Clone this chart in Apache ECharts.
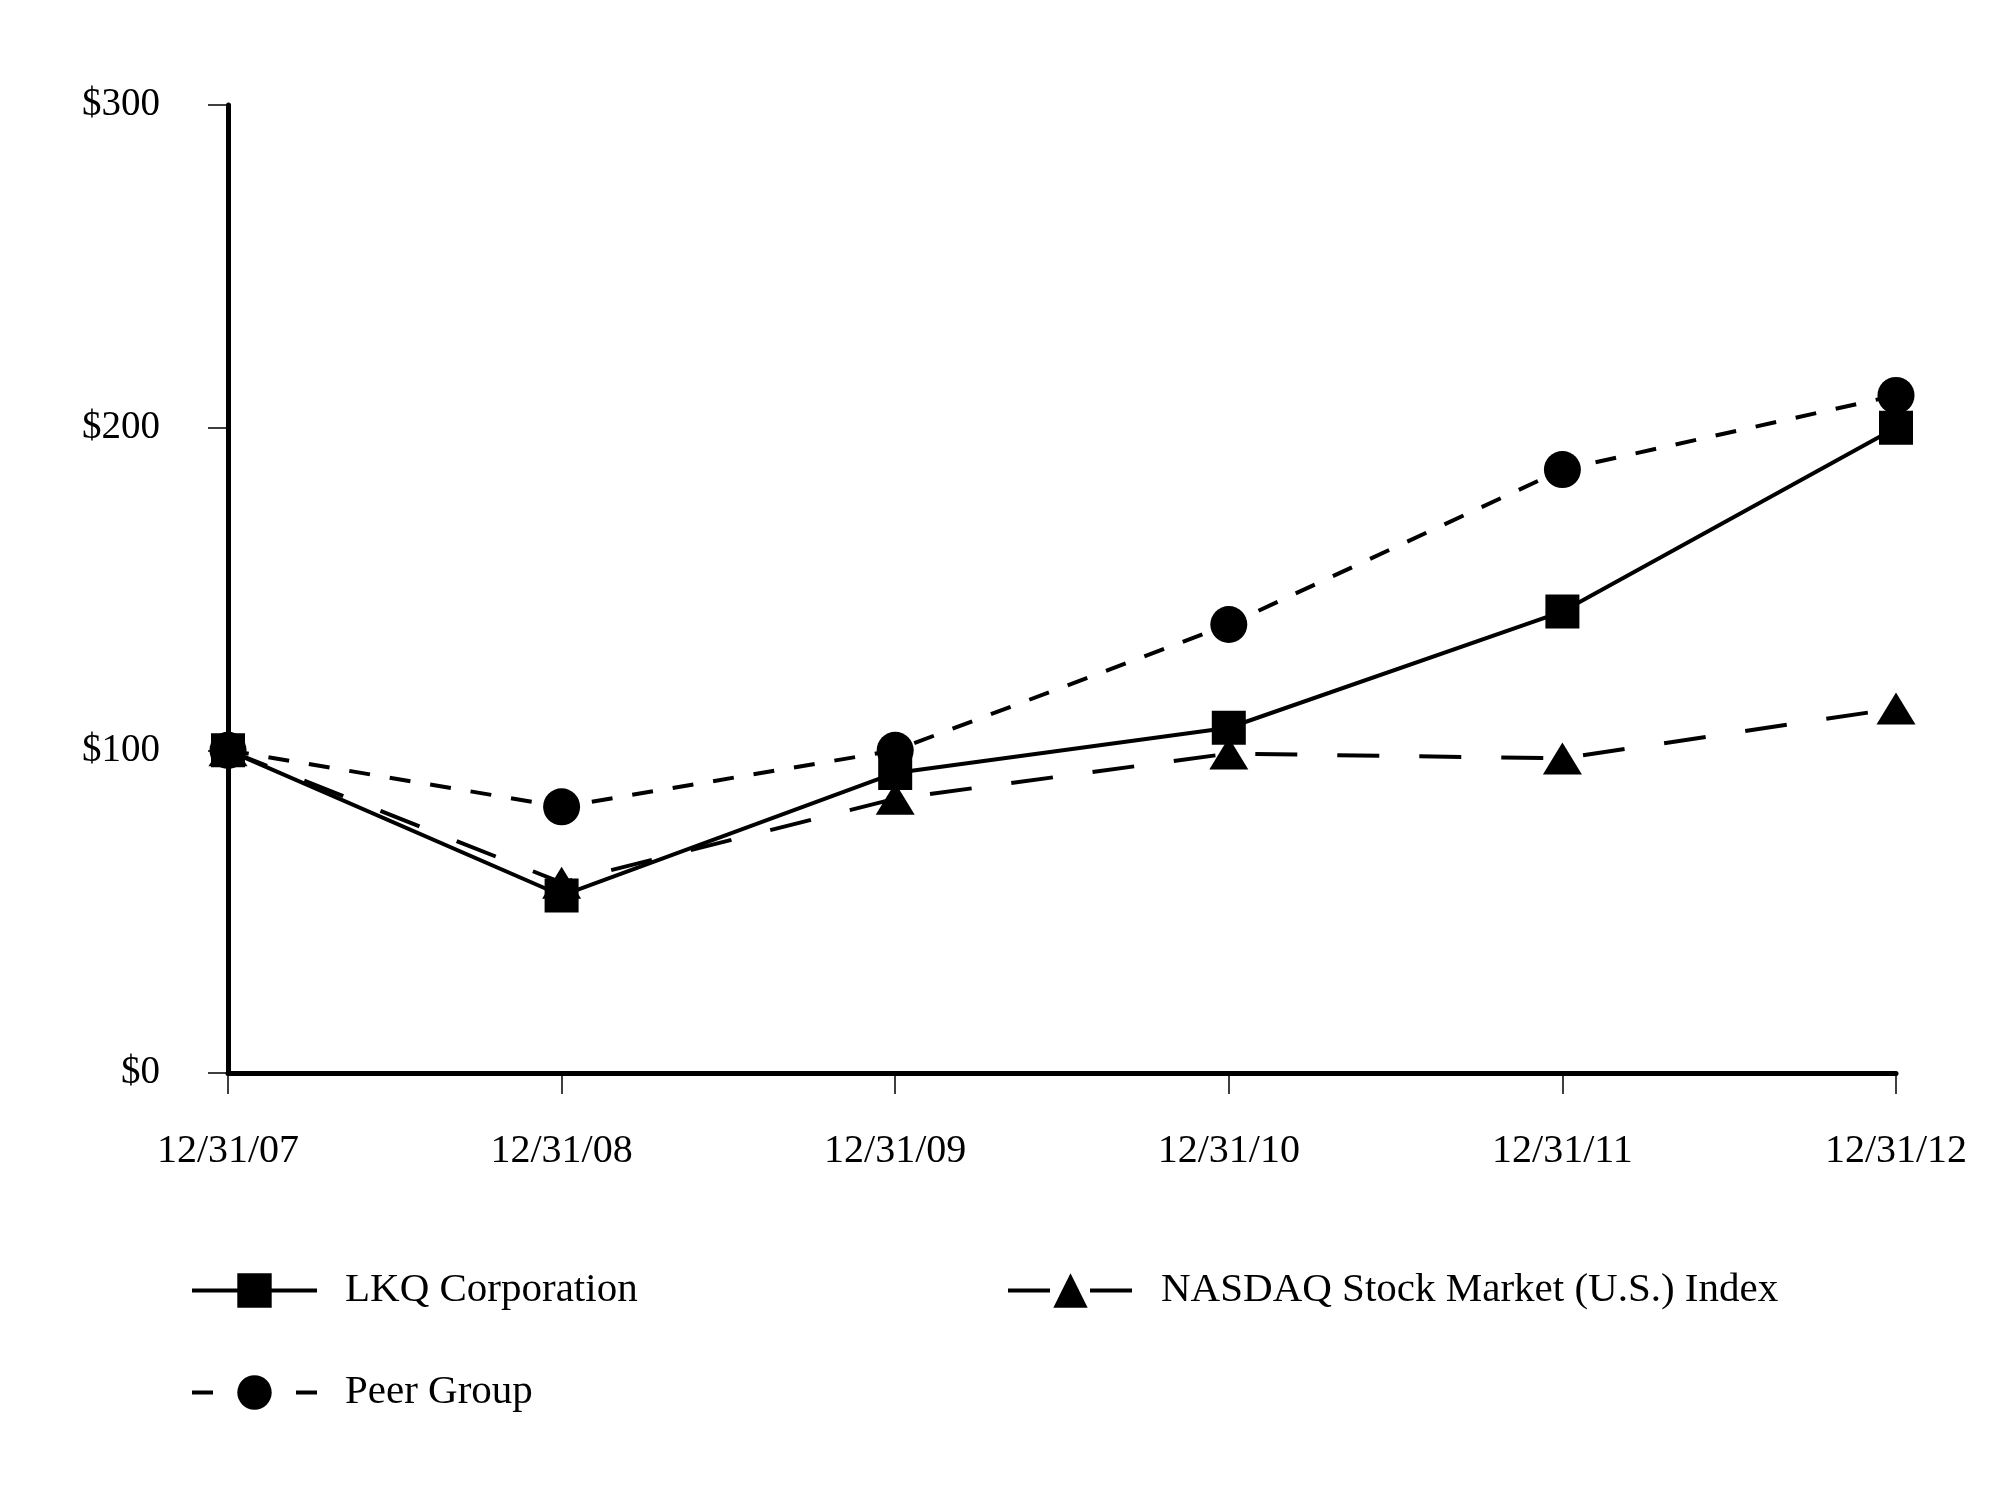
<!DOCTYPE html>
<html>
<head>
<meta charset="utf-8">
<script src="https://cdn.jsdelivr.net/npm/echarts@6/dist/echarts.min.js"></script>
<style>
  html, body { margin: 0; padding: 0; background: #ffffff; }
  #chart { width: 2000px; height: 1500px; }
</style>
</head>
<body>
<div id="chart"></div>
<script>
const categories = ['12/31/07', '12/31/08', '12/31/09', '12/31/10', '12/31/11', '12/31/12'];
const lkqValues = [100, 55, 93, 107, 143, 200];
const nasdaqValues = [100, 59, 85, 99, 97.5, 113];
const peerValues = [100, 82.5, 100, 139, 187, 210];
const yTicks = [0, 100, 200, 300];

const FONT = "'Liberation Serif', 'Times New Roman', serif";
const chart = echarts.init(document.getElementById('chart'), null, { renderer: 'canvas' });

const legendBase = {
  orient: 'horizontal',
  itemWidth: 125,
  itemHeight: 43,
  selectedMode: false,
  textStyle: { fontFamily: FONT, fontSize: 41, color: '#000', padding: [0, 0, 0, 23] }
};

chart.setOption({
  animation: false,
  backgroundColor: '#ffffff',
  grid: { left: 228, right: 104, top: 105, bottom: 427, containLabel: false },
  legend: [
    Object.assign({}, legendBase, { data: ['LKQ Corporation'], left: 185, top: 1265,
      lineStyle: { width: 4, type: 'solid', color: '#000' } }),
    Object.assign({}, legendBase, { data: ['NASDAQ Stock Market (U.S.) Index'], left: 1001, top: 1265,
      lineStyle: { width: 4, type: [42, 40], color: '#000' } }),
    Object.assign({}, legendBase, { data: ['Peer Group'], left: 185, top: 1367,
      lineStyle: { width: 4, type: [21, 83], color: '#000' } })
  ],
  xAxis: {
    type: 'category',
    data: categories,
    boundaryGap: false,
    axisLine: { show: true, lineStyle: { color: '#000', width: 5 } },
    axisTick: { show: true, length: 21, interval: 0, lineStyle: { color: '#000', width: 1.5 } },
    axisLabel: { interval: 0, margin: 58, color: '#000', fontFamily: FONT, fontSize: 40 },
    splitLine: { show: false }
  },
  yAxis: {
    type: 'value',
    min: yTicks[0],
    max: yTicks[yTicks.length - 1],
    interval: 100,
    axisLine: { show: true, lineStyle: { color: '#000', width: 5 } },
    axisTick: { show: true, length: 20, lineStyle: { color: '#000', width: 1.5 } },
    axisLabel: { margin: 68, color: '#000', fontFamily: FONT, fontSize: 39,
      formatter: function (v) { return '$' + v; } },
    splitLine: { show: false }
  },
  series: [
    {
      name: 'Peer Group',
      type: 'line',
      data: peerValues,
      symbol: 'circle',
      symbolSize: 37,
      lineStyle: { color: '#000', width: 4, type: [21, 20] },
      itemStyle: { color: '#000' },
      z: 2
    },
    {
      name: 'NASDAQ Stock Market (U.S.) Index',
      type: 'line',
      data: nasdaqValues,
      symbol: 'triangle',
      symbolSize: [39, 32],
      lineStyle: { color: '#000', width: 4, type: [42, 40] },
      itemStyle: { color: '#000' },
      z: 3
    },
    {
      name: 'LKQ Corporation',
      type: 'line',
      data: lkqValues,
      symbol: 'rect',
      symbolSize: 34,
      lineStyle: { color: '#000', width: 4, type: 'solid' },
      itemStyle: { color: '#000' },
      z: 4
    }
  ]
});
</script>
</body>
</html>
